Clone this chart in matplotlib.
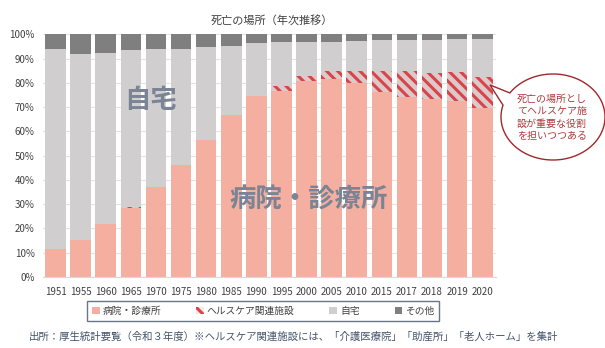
import numpy as np
import matplotlib.pyplot as plt
from matplotlib.patches import Patch, Polygon

plt.rcParams['font.family'] = ['Noto Sans CJK JP', 'DejaVu Sans']
plt.rcParams['hatch.linewidth'] = 2.2

years = ['1951', '1955', '1960', '1965', '1970', '1975', '1980', '1985', '1990',
         '1995', '2000', '2005', '2010', '2015', '2017', '2018', '2019', '2020']
hospital = [11.5, 15.4, 22.0, 28.5, 37.3, 46.2, 56.6, 66.6, 74.6,
            76.8, 80.7, 81.8, 80.1, 76.3, 74.2, 73.2, 72.6, 69.7]
healthcare = [0, 0, 0, 0.3, 0, 0, 0, 0, 0,
              1.8, 2.1, 3.0, 4.7, 8.5, 10.6, 10.9, 12.0, 12.8]
home = [82.3, 76.7, 70.5, 64.6, 56.5, 48.0, 38.3, 28.7, 21.7,
        18.2, 14.2, 12.2, 12.6, 12.9, 12.9, 13.6, 13.5, 15.8]
other = [6.2, 7.9, 7.5, 6.6, 6.2, 5.8, 5.1, 4.7, 3.7,
         3.2, 3.0, 3.0, 2.6, 2.3, 2.3, 2.3, 1.9, 1.7]

c_hosp = '#F4AFA0'
c_hatch = '#D9434A'
c_home = '#D0CECF'
c_other = '#7F7F7F'

fig = plt.figure(figsize=(6.05, 3.48), dpi=100)
ax = fig.add_axes([0.071, 0.204, 0.749, 0.697])

x = np.arange(len(years))
w = 0.82
hosp = np.array(hospital)
hc = np.array(healthcare)
hm = np.array(home)
ot = np.array(other)

ax.bar(x, hosp, w, color=c_hosp, linewidth=0, zorder=2)
ax.bar(x, hc, w, bottom=hosp, facecolor='#DCCACA', edgecolor=c_hatch,
       hatch='\\\\\\', linewidth=0, zorder=2)
ax.bar(x, hm, w, bottom=hosp + hc, color=c_home, linewidth=0, zorder=2)
ax.bar(x, ot, w, bottom=hosp + hc + hm, color=c_other, linewidth=0, zorder=2)

ax.set_xlim(-0.5, len(years) - 0.45)
ax.set_ylim(0, 100)
ax.set_yticks(np.arange(0, 101, 10))
ax.set_yticklabels([f'{v}%' for v in range(0, 101, 10)])
ax.set_xticks(x)
ax.set_xticklabels(years)
ax.tick_params(axis='both', length=0, labelsize=7, colors='#404040')
ax.tick_params(axis='x', pad=7)
ax.tick_params(axis='y', pad=6)
ax.grid(axis='y', color='#E3E3E3', linewidth=0.8, zorder=0)
for s in ['top', 'right', 'left']:
    ax.spines[s].set_visible(False)
ax.spines['bottom'].set_color('#D9D9D9')

# big labels
ax.text(3.78, 72.8, '自宅', fontsize=19, color='#7A8494', ha='center', va='center',
        fontweight='bold', zorder=3)
ax.text(10.07, 31.7, '病院・診療所', fontsize=19, color='#7A8494', ha='center',
        va='center', fontweight='bold', zorder=3)

fig.text(0.45, 0.943, '死亡の場所（年次推移）', fontsize=8, color='#404040',
         ha='center', va='center')

handles = [Patch(facecolor=c_hosp, label='病院・診療所'),
           Patch(facecolor='#F0E8E8', edgecolor=c_hatch, hatch='\\\\\\',
                 linewidth=0, label='ヘルスケア関連施設'),
           Patch(facecolor=c_home, label='自宅'),
           Patch(facecolor=c_other, label='その他')]
leg = fig.legend(handles=handles, loc='center', bbox_to_anchor=(0.435, 0.106),
                 ncol=4, fontsize=7, frameon=True, fancybox=False,
                 handlelength=0.8, handleheight=0.8, handletextpad=0.3,
                 columnspacing=3.6, borderpad=0.5, borderaxespad=0)
leg.get_frame().set_edgecolor('#44546A')
leg.get_frame().set_linewidth(1.0)
for t in leg.get_texts():
    t.set_color('#404040')

fig.text(0.048, 0.034,
         '出所：厚生統計要覧（令和３年度）※ヘルスケア関連施設には、「介護医療院」「助産所」「老人ホーム」を集計',
         fontsize=7.5, color='#44546A', ha='left', va='center')

# speech bubble
W, H = 605, 348
cx, cy, ra, rb = 553, 117, 52, 43
tip = (490, 85)
a1, a2 = np.deg2rad(146), np.deg2rad(164)  # gap where the pointer joins
pts = []
for ang in np.linspace(a2, a1 + 2 * np.pi, 400):
    pts.append((cx + ra * np.cos(ang), cy - rb * np.sin(ang)))
pts.append(tip)
pts = [(px / W, 1 - py / H) for px, py in pts]
bubble = Polygon(pts, closed=True, transform=fig.transFigure,
                 facecolor='white', edgecolor='#A0282C', linewidth=1.0, zorder=5)
fig.patches.append(bubble)
lines = ['死亡の場所とし', 'てヘルスケア施', '設が重要な役割', 'を担いつつある']
for i, ln in enumerate(lines):
    fig.text(517 / W, 1 - (99 + i * 12.3) / H, ln, fontsize=7.2, color='#B0383C',
             ha='left', va='center', zorder=6)

fig.savefig('out.png', dpi=100)
